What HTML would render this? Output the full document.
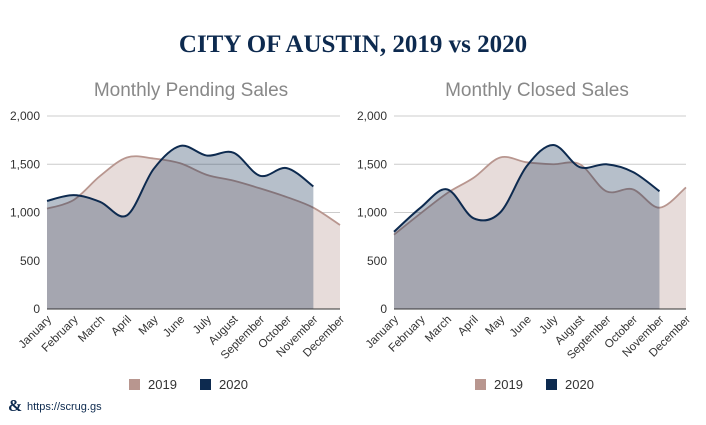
<!DOCTYPE html>
<html><head><meta charset="utf-8"><style>
body{margin:0;width:706px;height:420px;background:#fff;overflow:hidden;font-family:"Liberation Sans",sans-serif}
</style></head><body>
<svg id="s" width="706" height="420" viewBox="0 0 706 420" xmlns="http://www.w3.org/2000/svg">
<text x="353" y="52" text-anchor="middle" font-family="Liberation Serif,serif" font-weight="bold" font-size="25" fill="#0d2a4f">CITY OF AUSTIN, 2019 vs 2020</text>
<g id="left"></g><g id="right"></g>
<g>
<text x="8" y="411" font-family="Liberation Serif,serif" font-weight="bold" font-size="17" fill="#0d2a4f">&amp;</text>
<text x="27" y="410" font-size="11" fill="#0d2a4f">https://scrug.gs</text>
</g>
</svg>
<script>
const months=["January","February","March","April","May","June","July","August","September","October","November","December"];
const yTicks=[0,500,1000,1500,2000];
const yTickLabels=["0","500","1,000","1,500","2,000"];
const pending2019=[1040,1130,1380,1570,1560,1510,1390,1330,1250,1160,1050,870];
const pending2020=[1120,1180,1110,970,1450,1690,1590,1620,1380,1460,1270];
const closed2019=[770,990,1200,1360,1570,1520,1500,1500,1220,1240,1050,1260];
const closed2020=[800,1050,1240,940,1000,1480,1700,1470,1500,1420,1220];
const NS="http://www.w3.org/2000/svg";
function mk(p,t,a){const e=document.createElementNS(NS,t);for(const k in a)e.setAttribute(k,a[k]);p.appendChild(e);return e;}
function smooth(pts){let d="M"+pts[0][0]+","+pts[0][1];for(let i=0;i<pts.length-1;i++){const p0=pts[i-1]||pts[i],p1=pts[i],p2=pts[i+1],p3=pts[i+2]||p2;const c1=[p1[0]+(p2[0]-p0[0])/6,p1[1]+(p2[1]-p0[1])/6],c2=[p2[0]-(p3[0]-p1[0])/6,p2[1]-(p3[1]-p1[1])/6];d+=" C"+c1+" "+c2+" "+p2;}return d;}
function chart(id,title,cx,x0,x1,a,b){
 const g=document.getElementById(id);
 
 
 const yTop=116,yBot=309;
 const X=i=>x0+i*(x1-x0)/11, Y=v=>yBot-v/2000*(yBot-yTop);
 const t=mk(g,"text",{x:cx,y:96,"text-anchor":"middle","font-size":19,fill:"#888"});t.textContent=title;
 
 
 yTicks.forEach((v,i)=>{const l=mk(g,"line",{x1:x0,x2:x1,y1:Y(v),y2:Y(v),stroke:v?"#ccc":"#333","stroke-width":1});
  
  
  const tx=mk(g,"text",{x:x0-7,y:Y(v)+4,"text-anchor":"end","font-size":12,fill:"#333"});tx.textContent=yTickLabels[i];
  
  });
 [[a,"#e7dcda","#b8968f","series-2019"],[b,"rgba(13,42,79,0.3)","#0d2a4f","series-2020"]].forEach(([d,f,s,n],k)=>{
  const pts=d.map((v,i)=>[X(i),Y(v)]);const line=smooth(pts);
  const ar=mk(g,"path",{d:line+" L"+X(d.length-1)+","+yBot+" L"+x0+","+yBot+" Z",fill:f});
  
  
  const ln=mk(g,"path",{d:line,fill:"none",stroke:s,"stroke-width":k?2:1.8});
  
  });
 mk(g,"line",{x1:x0,x2:x1,y1:yBot,y2:yBot,stroke:"#333"});
 months.forEach((m,i)=>{const tx=mk(g,"text",{x:X(i)+5,y:yBot+11,"text-anchor":"end","font-size":11.5,fill:"#333",transform:`rotate(-45 ${X(i)+5} ${yBot+11})`});tx.textContent=m;
  
  });
 [["2019","#b8968f",cx-62],["2020","#0d2a4f",cx+9]].forEach(([l,c,x])=>{
  const r=mk(g,"rect",{x:x,y:379,width:11,height:11,fill:c});
  
  
  const tx=mk(g,"text",{x:x+19,y:389,"font-size":13,fill:"#333"});tx.textContent=l;
  
  });
}
chart("left","Monthly Pending Sales",191,47,340,pending2019,pending2020);
chart("right","Monthly Closed Sales",537,394,686,closed2019,closed2020);
</script>
</body></html>
